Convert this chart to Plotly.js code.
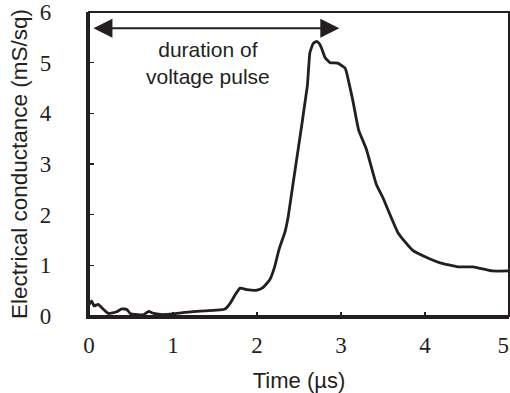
<!DOCTYPE html>
<html>
<head>
<meta charset="utf-8">
<script src="https://cdn.plot.ly/plotly-3.0.1.min.js"></script>
<style>html,body{margin:0;padding:0;background:#fff;}#chart{width:510px;height:393px;}</style>
</head>
<body>
<div id="chart"></div>
<script>
// Time (µs)
var time = [0, 0.03, 0.06, 0.11, 0.16, 0.23, 0.33, 0.39, 0.45, 0.49, 0.55, 0.65, 0.71, 0.77, 0.85, 1.0, 1.14, 1.38, 1.56, 1.62, 1.68, 1.74, 1.8, 1.88, 2.0, 2.07, 2.15, 2.21, 2.26, 2.3, 2.33, 2.37, 2.43, 2.48, 2.54, 2.57, 2.6, 2.63, 2.67, 2.71, 2.74, 2.77, 2.81, 2.87, 2.96, 3.05, 3.08, 3.14, 3.21, 3.3, 3.42, 3.5, 3.68, 3.85, 4.04, 4.18, 4.39, 4.57, 4.8, 5.0];
// Electrical conductance (mS/sq)
var conductance = [0.22, 0.3, 0.2, 0.23, 0.15, 0.05, 0.085, 0.14, 0.13, 0.05, 0.03, 0.03, 0.09, 0.05, 0.03, 0.04, 0.07, 0.1, 0.12, 0.14, 0.25, 0.42, 0.55, 0.52, 0.51, 0.56, 0.71, 0.97, 1.3, 1.5, 1.64, 1.95, 2.62, 3.18, 3.85, 4.2, 4.55, 5.2, 5.38, 5.42, 5.38, 5.28, 5.1, 5.0, 4.99, 4.89, 4.71, 4.26, 3.67, 3.3, 2.6, 2.33, 1.64, 1.3, 1.14, 1.05, 0.97, 0.97, 0.89, 0.89];
var xTicks = [0, 1, 2, 3, 4, 5];
var yTicks = [0, 1, 2, 3, 4, 5, 6];
// pulse duration arrow (µs) and its label
var pulseStart = 0.035, pulseEnd = 2.98, pulseLevel = 5.68;
var pulseLabel = "duration of<br>voltage pulse";

var ink = "#231f20";
var trace = {
  x: time, y: conductance, type: "scatter", mode: "lines",
  line: {color: ink, width: 2.8, shape: "spline", smoothing: 0.4},
  hoverinfo: "skip"
};
var layout = {
  width: 510, height: 393,
  margin: {l: 89, r: 1, t: 12, b: 77, pad: 0},
  paper_bgcolor: "#fff", plot_bgcolor: "#fff",
  showlegend: false,
  xaxis: {
    range: [0, 5], tickvals: xTicks,
    ticktext: xTicks.map(function (v, i) { return i === xTicks.length - 1 ? v + "\u2002" : String(v); }),
    ticks: "inside", ticklen: 4, tickwidth: 1.5, tickcolor: ink,
    showline: true, linewidth: 3, linecolor: ink, mirror: false,
    showgrid: false, zeroline: false, fixedrange: true,
    tickfont: {family: "Liberation Serif, Times New Roman, serif", size: 23, color: ink},
    ticklabelstandoff: 6, ticklabeloverflow: "allow",
    title: {text: "Time (µs)", standoff: 17, font: {family: "Liberation Sans, Arial, sans-serif", size: 22, color: ink}}
  },
  yaxis: {
    range: [0, 6], tickvals: yTicks, ticktext: yTicks.map(function (v) { return v + "\u2009\u2009"; }),
    ticks: "inside", ticklen: 5, tickwidth: 1.5, tickcolor: ink,
    showline: true, linewidth: 3, linecolor: ink, mirror: false,
    showgrid: false, zeroline: false, fixedrange: true,
    tickfont: {family: "Liberation Serif, Times New Roman, serif", size: 23, color: ink},
    ticklabelstandoff: 21, ticklabeloverflow: "allow",
    title: {text: "Electrical conductance (mS/sq)", standoff: 6, font: {family: "Liberation Sans, Arial, sans-serif", size: 22.5, color: ink}}
  },
  shapes: [{type: "rect", xref: "paper", yref: "paper", x0: 0, x1: 1, y0: 0, y1: 1, line: {color: ink, width: 2}, layer: "above"}],
  annotations: [
    {x: pulseEnd, y: pulseLevel, ax: pulseStart, ay: pulseLevel, xref: "x", yref: "y", axref: "x", ayref: "y",
     text: "", showarrow: true, arrowside: "end+start", arrowhead: 2, startarrowhead: 2,
     arrowsize: 1.9, startarrowsize: 1.9, arrowwidth: 2, arrowcolor: ink, standoff: 0, startstandoff: 0},
    {x: 1.42, y: 5.0, xref: "x", yref: "y", text: pulseLabel, showarrow: false,
     font: {family: "Liberation Sans, Arial, sans-serif", size: 21, color: ink}, align: "center"}
  ]
};
Plotly.newPlot("chart", [trace], layout, {staticPlot: true, displayModeBar: false});
</script>
</body>
</html>
